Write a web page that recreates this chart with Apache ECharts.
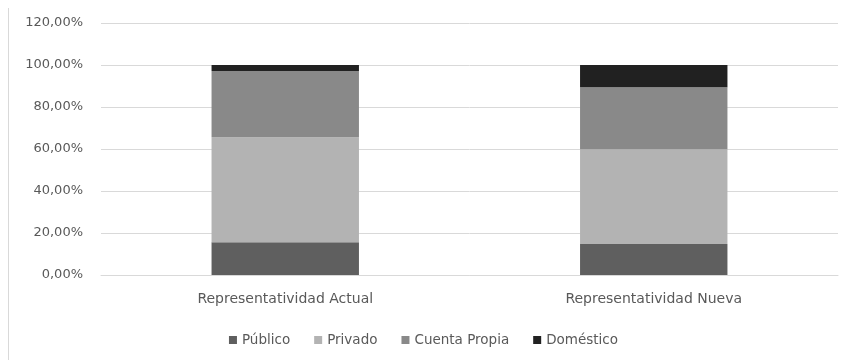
<!DOCTYPE html>
<html><head><meta charset="utf-8">
<script src="https://cdn.jsdelivr.net/npm/echarts@6/dist/echarts.min.js"></script>
<style>html,body{margin:0;padding:0;background:#fff}#c{width:847px;height:360px}</style>
</head><body><div id="c"></div>
<script>
const categories = ['Representatividad Actual', 'Representatividad Nueva'];
const seriesNames = ['Público', 'Privado', 'Cuenta Propia', 'Doméstico'];
const publico = [15.6, 14.8];
const privado = [50.0, 45.1];
const cuentaPropia = [31.5, 29.5];
const domestico = [2.9, 10.6];
const colors = ['#5f5f5f', '#b3b3b3', '#898989', '#212121'];
const values = [publico, privado, cuentaPropia, domestico];
const font = 'DejaVu Sans';
const chart = echarts.init(document.getElementById('c'));
chart.setOption({
  animation: false,
  grid: {left: 101, right: 9, top: 23, bottom: 85, containLabel: false},
  graphic: [{type: 'line', shape: {x1: 8.5, y1: 8, x2: 8.5, y2: 360}, style: {stroke: '#d9d9d9', lineWidth: 1}}],
  legend: {
    bottom: 8, left: 'center', itemWidth: 8, itemHeight: 8, itemGap: 24, icon: 'rect',
    textStyle: {color: '#595959', fontFamily: font, fontSize: 13.5},
    data: seriesNames
  },
  xAxis: {
    type: 'category', data: categories,
    axisLine: {lineStyle: {color: '#d9d9d9'}}, axisTick: {show: false},
    axisLabel: {color: '#595959', fontFamily: font, fontSize: 14, margin: 17}
  },
  yAxis: {
    type: 'value', min: 0, max: 120, interval: 20,
    axisLine: {show: false}, axisTick: {show: false},
    splitLine: {lineStyle: {color: '#d9d9d9'}},
    axisLabel: {color: '#595959', fontFamily: font, fontSize: 13, margin: 18,
      formatter: v => v.toFixed(2).replace('.', ',') + '%'}
  },
  series: seriesNames.map((n, i) => ({
    name: n, type: 'bar', stack: 'total', barWidth: '40%',
    itemStyle: {color: colors[i]},
    data: values[i]
  }))
});
</script></body></html>
